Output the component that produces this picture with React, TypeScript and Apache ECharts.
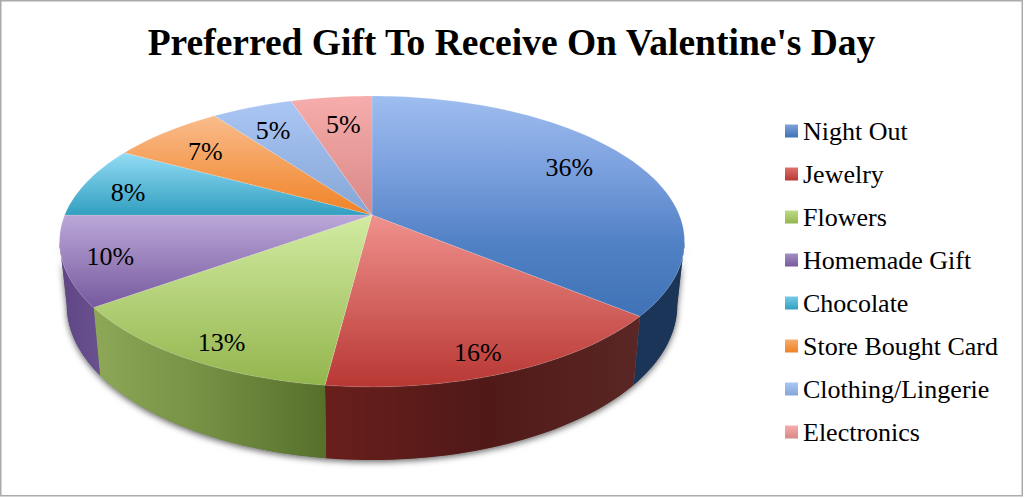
import React, { useEffect, useRef } from "react";
import * as echarts from "echarts";

const TITLE = "Preferred Gift To Receive On Valentine's Day";
const categories = ["Night Out", "Jewelry", "Flowers", "Homemade Gift", "Chocolate", "Store Bought Card", "Clothing/Lingerie", "Electronics"];
const shares = [36, 16, 13, 10, 8, 7, 5, 5];

const topColors = [
  ["#9FBEF0", "#7BA0DE", "#5181C5", "#3F72B6"], ["#F0918D", "#B83733"], ["#D2EBA2", "#93B54D"], ["#BBA8D8", "#76599E"],
  ["#93DCF5", "#329FC0"], ["#F9BC8C", "#F08225"], ["#ABC6F4", "#84A6D6"], ["#F6ADAB", "#D98886"],
];
const legendColors = [
  ["#7FA2DC", "#3F72B6"], ["#E0706C", "#B83733"], ["#BEDC86", "#93B54D"], ["#A48FC4", "#76599E"],
  ["#75CBE6", "#329FC0"], ["#F7AC6E", "#F08225"], ["#ABC6F4", "#84A6D6"], ["#F6ADAB", "#D98886"],
];
const sideColors = [
  ["#1B3559", "#1B3559"], ["#691F1C", "#501918", "#5A2724"], ["#8EA858", "#748E43", "#56702B"], ["#5F4585", "#69508F"],
  ["#2A7A94", "#2A7A94"], ["#B8651C", "#B8651C"], ["#5A7BAA", "#5A7BAA"], ["#A8605E", "#A8605E"],
];

const FONT = '"Liberation Serif", serif';
const LABEL_FONT_SIZE = 26;

// Projected disc: a perspective view of a unit circle, centre of the pie at APEX.
const APEX_X = 372, APEX_Y = 215, PERSP = 0.182, KX = 307.3, KY = -101.5;
const X_SHRINK = 0.977, Y_STRETCH = 1.065, Y_REF = 308, Y_REF_BOTTOM = 376;
const TANGENT = 100.5; // angle at which the top rim is widest
const LABEL_REACH = 0.8;
const labelNudge = [[-9, -3.5], [-3, 12], [-2, 13], [-14, 5], [-16, 4], [-2, 3], [-3, 2], [4, 4]];

const total = shares.reduce((a, b) => a + b, 0);
const startOf = (i: number) => shares.slice(0, i).reduce((a, b) => a + b, 0) / total * 360;

function rim(deg: number): [number, number] {
  const t = (deg * Math.PI) / 180;
  const u = Math.sin(t), v = Math.cos(t);
  const w = 1 + PERSP * v;
  return [APEX_X + (KX * u) / w, (APEX_Y + KY * v) / w];
}
function rimBottom(deg: number): [number, number] {
  const [x, y] = rim(deg);
  return [APEX_X + (x - APEX_X) * X_SHRINK, (y - Y_REF) * Y_STRETCH + Y_REF_BOTTOM];
}
function samples(a: number, b: number): number[] {
  const n = Math.max(2, Math.ceil(Math.abs(b - a) / 1.5));
  return Array.from({ length: n + 1 }, (_, i) => a + ((b - a) * i) / n);
}
const stops = (c: string[]) => c.map((color, i) => ({ offset: i / (c.length - 1), color }));
const vGrad = (c: string[]) => new echarts.graphic.LinearGradient(0, 0, 0, 1, stops(c));
const hGrad = (c: string[]) => new echarts.graphic.LinearGradient(0, 0, 1, 0, stops(c));

function sidePolygon(a: number, b: number) {
  const arc = samples(a, b);
  return [...arc.map(rim), ...arc.slice().reverse().map(rimBottom)];
}

const renderSlice = (i: number) => (_p: any, api: any) => {
  const a = startOf(i);
  const b = a + (api.value(0) / total) * 360;
  const children: any[] = [];
  const fa = Math.max(a, TANGENT), fb = Math.min(b, 360 - TANGENT);
  if (fb > fa) {
    children.push({
      type: "polygon",
      shape: { points: sidePolygon(fa, fb) },
      style: { fill: hGrad(sideColors[i]) },
    });
  }
  children.push({
    type: "polygon",
    shape: { points: [[APEX_X, APEX_Y], ...samples(a, b).map(rim)] },
    style: { fill: vGrad(topColors[i]), stroke: "rgba(255,255,255,0.3)", lineWidth: 0.5 },
  });
  const [mx, my] = rim((a + b) / 2);
  const lx = APEX_X + (mx - APEX_X) * LABEL_REACH + labelNudge[i][0];
  const ly = APEX_Y + (my - APEX_Y) * LABEL_REACH + labelNudge[i][1];
  children.push({
    type: "text",
    x: lx,
    y: ly,
    style: {
      text: `${api.value(0)}%`,
      fill: "#000",
      font: `${LABEL_FONT_SIZE}px ${FONT}`,
      align: "center",
      verticalAlign: "middle",
      textAlign: "center",
      textVerticalAlign: "middle",
    },
  });
  return { type: "group", children };
};

const renderShadow = () => ({
  type: "polygon",
  shape: { points: sidePolygon(TANGENT, 360 - TANGENT) },
  style: {
    fill: "#777",
    shadowColor: "rgba(0,0,0,0.6)",
    shadowBlur: 6,
    shadowOffsetX: 0,
    shadowOffsetY: 2,
  },
});

export default function App() {
  const ref = useRef<HTMLDivElement>(null);
  useEffect(() => {
    const chart = echarts.init(ref.current!, undefined, { renderer: "svg" });
    chart.setOption({
      animation: false,
      backgroundColor: "#fff",
      title: {
        text: TITLE,
        left: 506.5,
        textAlign: "center",
        top: 18,
        textStyle: { fontFamily: FONT, fontWeight: "bold", fontSize: 37.5, color: "#000" },
      },
      legend: {
        orient: "vertical",
        left: 780,
        top: 111,
        itemWidth: 13,
        itemHeight: 13,
        itemGap: 13,
        selectedMode: false,
        icon: "rect",
        textStyle: { fontFamily: FONT, fontSize: LABEL_FONT_SIZE, color: "#000", lineHeight: 30, height: 30 },
        data: categories.map((name, i) => ({ name, itemStyle: { color: vGrad(legendColors[i]) } })),
      },
      graphic: [
        {
          type: "rect",
          shape: { x: 0.75, y: 0.75, width: 1021.5, height: 495 },
          style: { fill: "none", stroke: "#ABABAB", lineWidth: 1.5 },
        },
      ],
      series: [
        { type: "custom", name: "__shadow", coordinateSystem: "none", renderItem: renderShadow, data: [1], silent: true },
        ...categories.map((name, i) => ({
          type: "custom",
          name,
          coordinateSystem: "none",
          renderItem: renderSlice(i),
          data: [shares[i]],
          itemStyle: { color: vGrad(legendColors[i]) },
          silent: true,
        })),
      ],
    });
    return () => chart.dispose();
  }, []);
  return <div ref={ref} style={{ position: "absolute", left: 0, top: 0, width: 1024, height: 498 }} />;
}
